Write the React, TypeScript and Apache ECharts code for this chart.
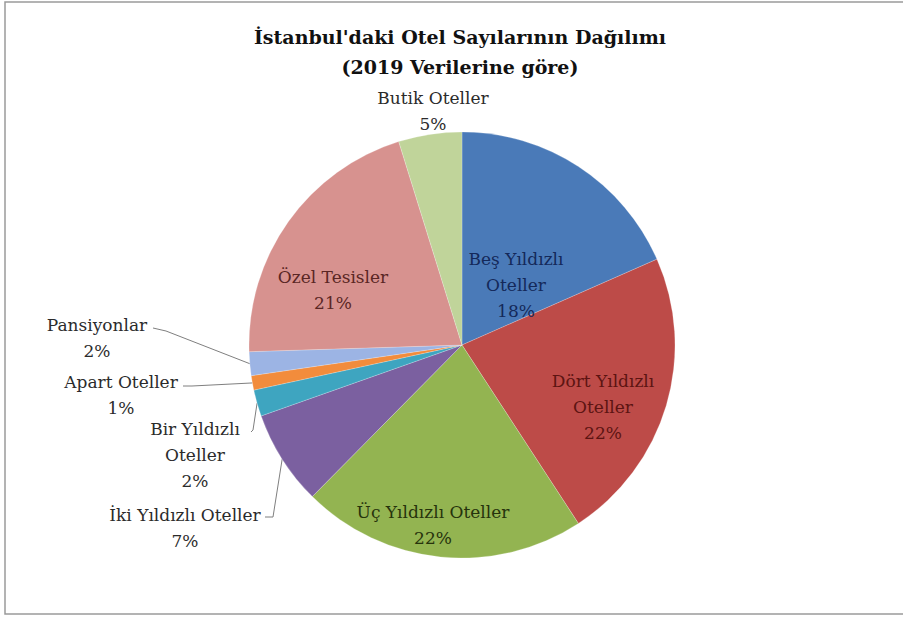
import React, { useEffect, useRef } from 'react';
import * as echarts from 'echarts';

const categories = [
  'Beş Yıldızlı Oteller',
  'Dört Yıldızlı Oteller',
  'Üç Yıldızlı Oteller',
  'İki Yıldızlı Oteller',
  'Bir Yıldızlı Oteller',
  'Apart Oteller',
  'Pansiyonlar',
  'Özel Tesisler',
  'Butik Oteller',
];
const shares = [18.4, 22.4, 21.6, 7.2, 2.0, 1.1, 1.8, 20.7, 4.8];
const titleLines = ["İstanbul'daki Otel Sayılarının Dağılımı", '(2019 Verilerine göre)'];

const sliceColors = ['#4a7ab8', '#bd4b48', '#93b451', '#7b60a0', '#3ea5c0', '#f28c3c', '#9cb4e4', '#d7928f', '#c0d49a'];
const labelColors = ['#14295a', '#5c1412', '#26330c', '#2b2b2b', '#2b2b2b', '#2b2b2b', '#2b2b2b', '#5a2624', '#2b2b2b'];
const insideLabel = [true, true, true, false, false, false, false, true, false];
const wrapName = [true, true, false, false, true, false, false, false, false];
const showLeader = [false, false, false, true, true, true, true, false, false];

// label block centres (layout)
const labelPos: Record<number, [number, number]> = {
  0: [516, 285],
  1: [603, 407],
  2: [433, 525],
  3: [185, 528],
  4: [195, 455],
  5: [121, 395],
  6: [97, 338],
  7: [333, 290],
  8: [433, 111],
};
const leaderPts: Record<number, [number, number][]> = {
  3: [[273, 517], [265, 517]],
  4: [[253, 430], [251, 432]],
  5: [[192, 386], [183, 386]],
  6: [[166, 331], [153, 328]],
};

const FONT = 'DejaVu Serif';

export default function App() {
  const ref = useRef<HTMLDivElement>(null);
  useEffect(() => {
    document.body.style.margin = '0';
    const chart = echarts.init(ref.current!, null, { renderer: 'svg' });
    const data = categories.map((name, i) => ({
      name,
      value: shares[i],
      itemStyle: { color: sliceColors[i] },
      label: {
        position: insideLabel[i] ? 'inside' : 'outside',
        color: labelColors[i],
      },
      labelLine: { show: showLeader[i] },
    }));
    chart.setOption({
      animation: false,
      graphic: [
        {
          type: 'rect',
          silent: true,
          shape: { x: 5, y: 2, width: 905, height: 612 },
          style: { fill: 'none', stroke: '#9a9a9a', lineWidth: 1.5 },
        },
        {
          type: 'text',
          x: 460,
          y: 37,
          style: {
            text: titleLines[0],
            textAlign: 'center',
            textVerticalAlign: 'middle',
            fontFamily: FONT,
            fontWeight: 'bold',
            fontSize: 19,
            fill: '#111111',
          },
        },
        {
          type: 'text',
          x: 460,
          y: 67,
          style: {
            text: titleLines[1],
            textAlign: 'center',
            textVerticalAlign: 'middle',
            fontFamily: FONT,
            fontWeight: 'bold',
            fontSize: 19,
            fill: '#111111',
          },
        },
      ],
      series: [
        {
          type: 'pie',
          center: [462, 345],
          radius: 213,
          startAngle: 90,
          clockwise: true,
          avoidLabelOverlap: false,
          emphasis: { disabled: true },
          itemStyle: { borderColor: 'rgba(255,255,255,0.35)', borderWidth: 0.6 },
          label: {
            fontFamily: FONT,
            fontSize: 17,
            lineHeight: 26,
            align: 'center',
            formatter: (p: any) => {
              const i = p.dataIndex;
              const name = wrapName[i] ? p.name.replace(' Oteller', '\nOteller') : p.name;
              return `${name}\n${Math.round(p.percent)}%`;
            },
          },
          labelLine: { lineStyle: { color: '#7f7f7f', width: 1 }, length: 10, length2: 10 },
          labelLayout: (p: any) => {
            const i = p.dataIndex;
            const pos = labelPos[i];
            const res: any = { x: pos[0], y: pos[1], align: 'center', verticalAlign: 'middle' };
            const lead = leaderPts[i];
            if (lead && p.labelLinePoints && p.labelLinePoints[0]) {
              res.labelLinePoints = [p.labelLinePoints[0], lead[0], lead[1]];
            }
            return res;
          },
          data,
        },
      ],
    });
    return () => chart.dispose();
  }, []);
  return <div ref={ref} style={{ width: 903, height: 617 }} />;
}
